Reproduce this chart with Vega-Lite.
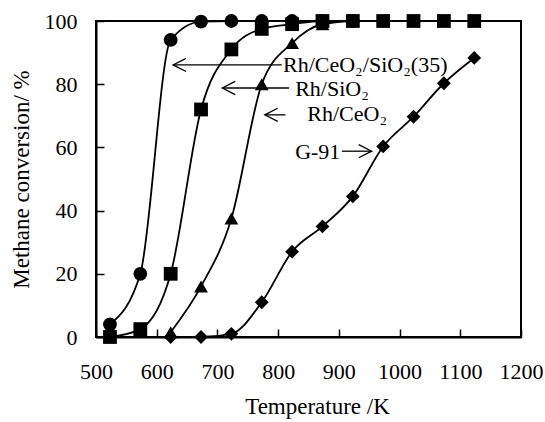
{
  "$schema": "https://vega.github.io/schema/vega-lite/v6.json",
  "width": 425,
  "height": 316,
  "autosize": "none",
  "padding": {"left": 96, "top": 21, "right": 24, "bottom": 85},
  "background": "white",
  "config": {
    "view": {"stroke": "black", "strokeWidth": 2},
    "font": "Liberation Serif",
    "axis": {
      "grid": false,
      "domainColor": "black",
      "domainWidth": 2,
      "tickColor": "black",
      "tickWidth": 1.5,
      "tickSize": -8,
      "labelFont": "Liberation Serif",
      "labelFontSize": 22,
      "labelColor": "black",
      "labelOverlap": false,
      "labelBound": false,
      "labelFlush": false,
      "titleFont": "Liberation Serif",
      "titleFontSize": 23,
      "titleFontWeight": "normal",
      "titleColor": "black"
    }
  },
  "datasets": {
    "series": [
      {"s": "A", "T": 523, "c": 4},
      {"s": "A", "T": 573, "c": 20},
      {"s": "A", "T": 623, "c": 94},
      {"s": "A", "T": 673, "c": 99.8},
      {"s": "A", "T": 723, "c": 100},
      {"s": "A", "T": 773, "c": 100},
      {"s": "A", "T": 823, "c": 100},
      {"s": "A", "T": 873, "c": 100},
      {"s": "A", "T": 923, "c": 100},
      {"s": "B", "T": 523, "c": 0},
      {"s": "B", "T": 573, "c": 2.5},
      {"s": "B", "T": 623, "c": 20},
      {"s": "B", "T": 673, "c": 72},
      {"s": "B", "T": 723, "c": 91},
      {"s": "B", "T": 773, "c": 97.5},
      {"s": "B", "T": 823, "c": 99},
      {"s": "B", "T": 873, "c": 100},
      {"s": "B", "T": 923, "c": 100},
      {"s": "B", "T": 973, "c": 100},
      {"s": "B", "T": 1023, "c": 100},
      {"s": "B", "T": 1073, "c": 100},
      {"s": "B", "T": 1123, "c": 100},
      {"s": "C", "T": 623, "c": 1.5},
      {"s": "C", "T": 673, "c": 16},
      {"s": "C", "T": 723, "c": 37.5},
      {"s": "C", "T": 773, "c": 80},
      {"s": "C", "T": 823, "c": 93},
      {"s": "C", "T": 873, "c": 99},
      {"s": "C", "T": 923, "c": 100},
      {"s": "D", "T": 623, "c": 0},
      {"s": "D", "T": 673, "c": 0},
      {"s": "D", "T": 723, "c": 1},
      {"s": "D", "T": 773, "c": 11},
      {"s": "D", "T": 823, "c": 27},
      {"s": "D", "T": 873, "c": 35},
      {"s": "D", "T": 923, "c": 44.5},
      {"s": "D", "T": 973, "c": 60.3},
      {"s": "D", "T": 1023, "c": 69.7},
      {"s": "D", "T": 1073, "c": 80.3},
      {"s": "D", "T": 1123, "c": 88.3}
    ],
    "labels": [
      {"x": 808, "y": 86.1, "t": "Rh/CeO₂/SiO₂(35)"},
      {"x": 828, "y": 78.6, "t": "Rh/SiO₂"},
      {"x": 848, "y": 70.5, "t": "Rh/CeO₂"},
      {"x": 828, "y": 58.5, "t": "G-91"}
    ],
    "arrows": [
      {"x": 627, "x2": 806, "y": 86.1},
      {"x": 708, "x2": 818, "y": 78.8},
      {"x": 778, "x2": 812, "y": 70.3},
      {"x": 905, "x2": 954, "y": 58.8}
    ],
    "heads": [
      {"x": 627, "y": 86.1, "d": "L"},
      {"x": 708, "y": 78.8, "d": "L"},
      {"x": 778, "y": 70.3, "d": "L"},
      {"x": 954, "y": 58.8, "d": "R"}
    ]
  },
  "layer": [
    {
      "data": {"name": "series"},
      "mark": {"type": "line", "interpolate": "monotone", "color": "black", "strokeWidth": 1.8},
      "encoding": {
        "x": {"field": "T", "type": "quantitative", "scale": {"domain": [500, 1200], "nice": false},
              "axis": {"values": [500, 600, 700, 800, 900, 1000, 1100, 1200], "format": "d", "title": "Temperature /K", "labelPadding": 32, "titlePadding": 13, "titleX": 221}},
        "y": {"field": "c", "type": "quantitative", "scale": {"domain": [0, 100], "nice": false},
              "axis": {"values": [0, 20, 40, 60, 80, 100], "format": "d", "title": "Methane conversion/ %", "labelPadding": 27, "titlePadding": 11}},
        "detail": {"field": "s"}
      }
    },
    {
      "data": {"name": "series"},
      "mark": {"type": "point", "filled": true, "color": "black", "opacity": 1},
      "encoding": {
        "x": {"field": "T", "type": "quantitative"},
        "y": {"field": "c", "type": "quantitative"},
        "shape": {"field": "s", "type": "nominal",
                  "scale": {"domain": ["A", "B", "C", "D"], "range": ["circle", "square", "triangle-up", "diamond"]},
                  "legend": null},
        "size": {"field": "s", "type": "nominal",
                 "scale": {"domain": ["A", "B", "C", "D"], "range": [190, 190, 200, 170]},
                 "legend": null}
      }
    },
    {
      "data": {"name": "arrows"},
      "mark": {"type": "rule", "color": "black", "strokeWidth": 1.3},
      "encoding": {
        "x": {"field": "x", "type": "quantitative"},
        "x2": {"field": "x2"},
        "y": {"field": "y", "type": "quantitative"}
      }
    },
    {
      "data": {"name": "heads"},
      "transform": [{"filter": "datum.d == 'L'"}],
      "mark": {"type": "point", "filled": false, "color": "black", "strokeWidth": 1.3, "opacity": 1, "size": 36,
               "shape": "M4.3,-2.2L0,0L4.3,2.2"},
      "encoding": {
        "x": {"field": "x", "type": "quantitative"},
        "y": {"field": "y", "type": "quantitative"}
      }
    },
    {
      "data": {"name": "heads"},
      "transform": [{"filter": "datum.d == 'R'"}],
      "mark": {"type": "point", "filled": false, "color": "black", "strokeWidth": 1.3, "opacity": 1, "size": 36,
               "shape": "M-4.3,-2.2L0,0L-4.3,2.2"},
      "encoding": {
        "x": {"field": "x", "type": "quantitative"},
        "y": {"field": "y", "type": "quantitative"}
      }
    },
    {
      "data": {"name": "labels"},
      "mark": {"type": "text", "align": "left", "baseline": "middle", "font": "Liberation Serif", "fontSize": 22, "color": "black"},
      "encoding": {
        "x": {"field": "x", "type": "quantitative"},
        "y": {"field": "y", "type": "quantitative"},
        "text": {"field": "t"}
      }
    }
  ]
}
